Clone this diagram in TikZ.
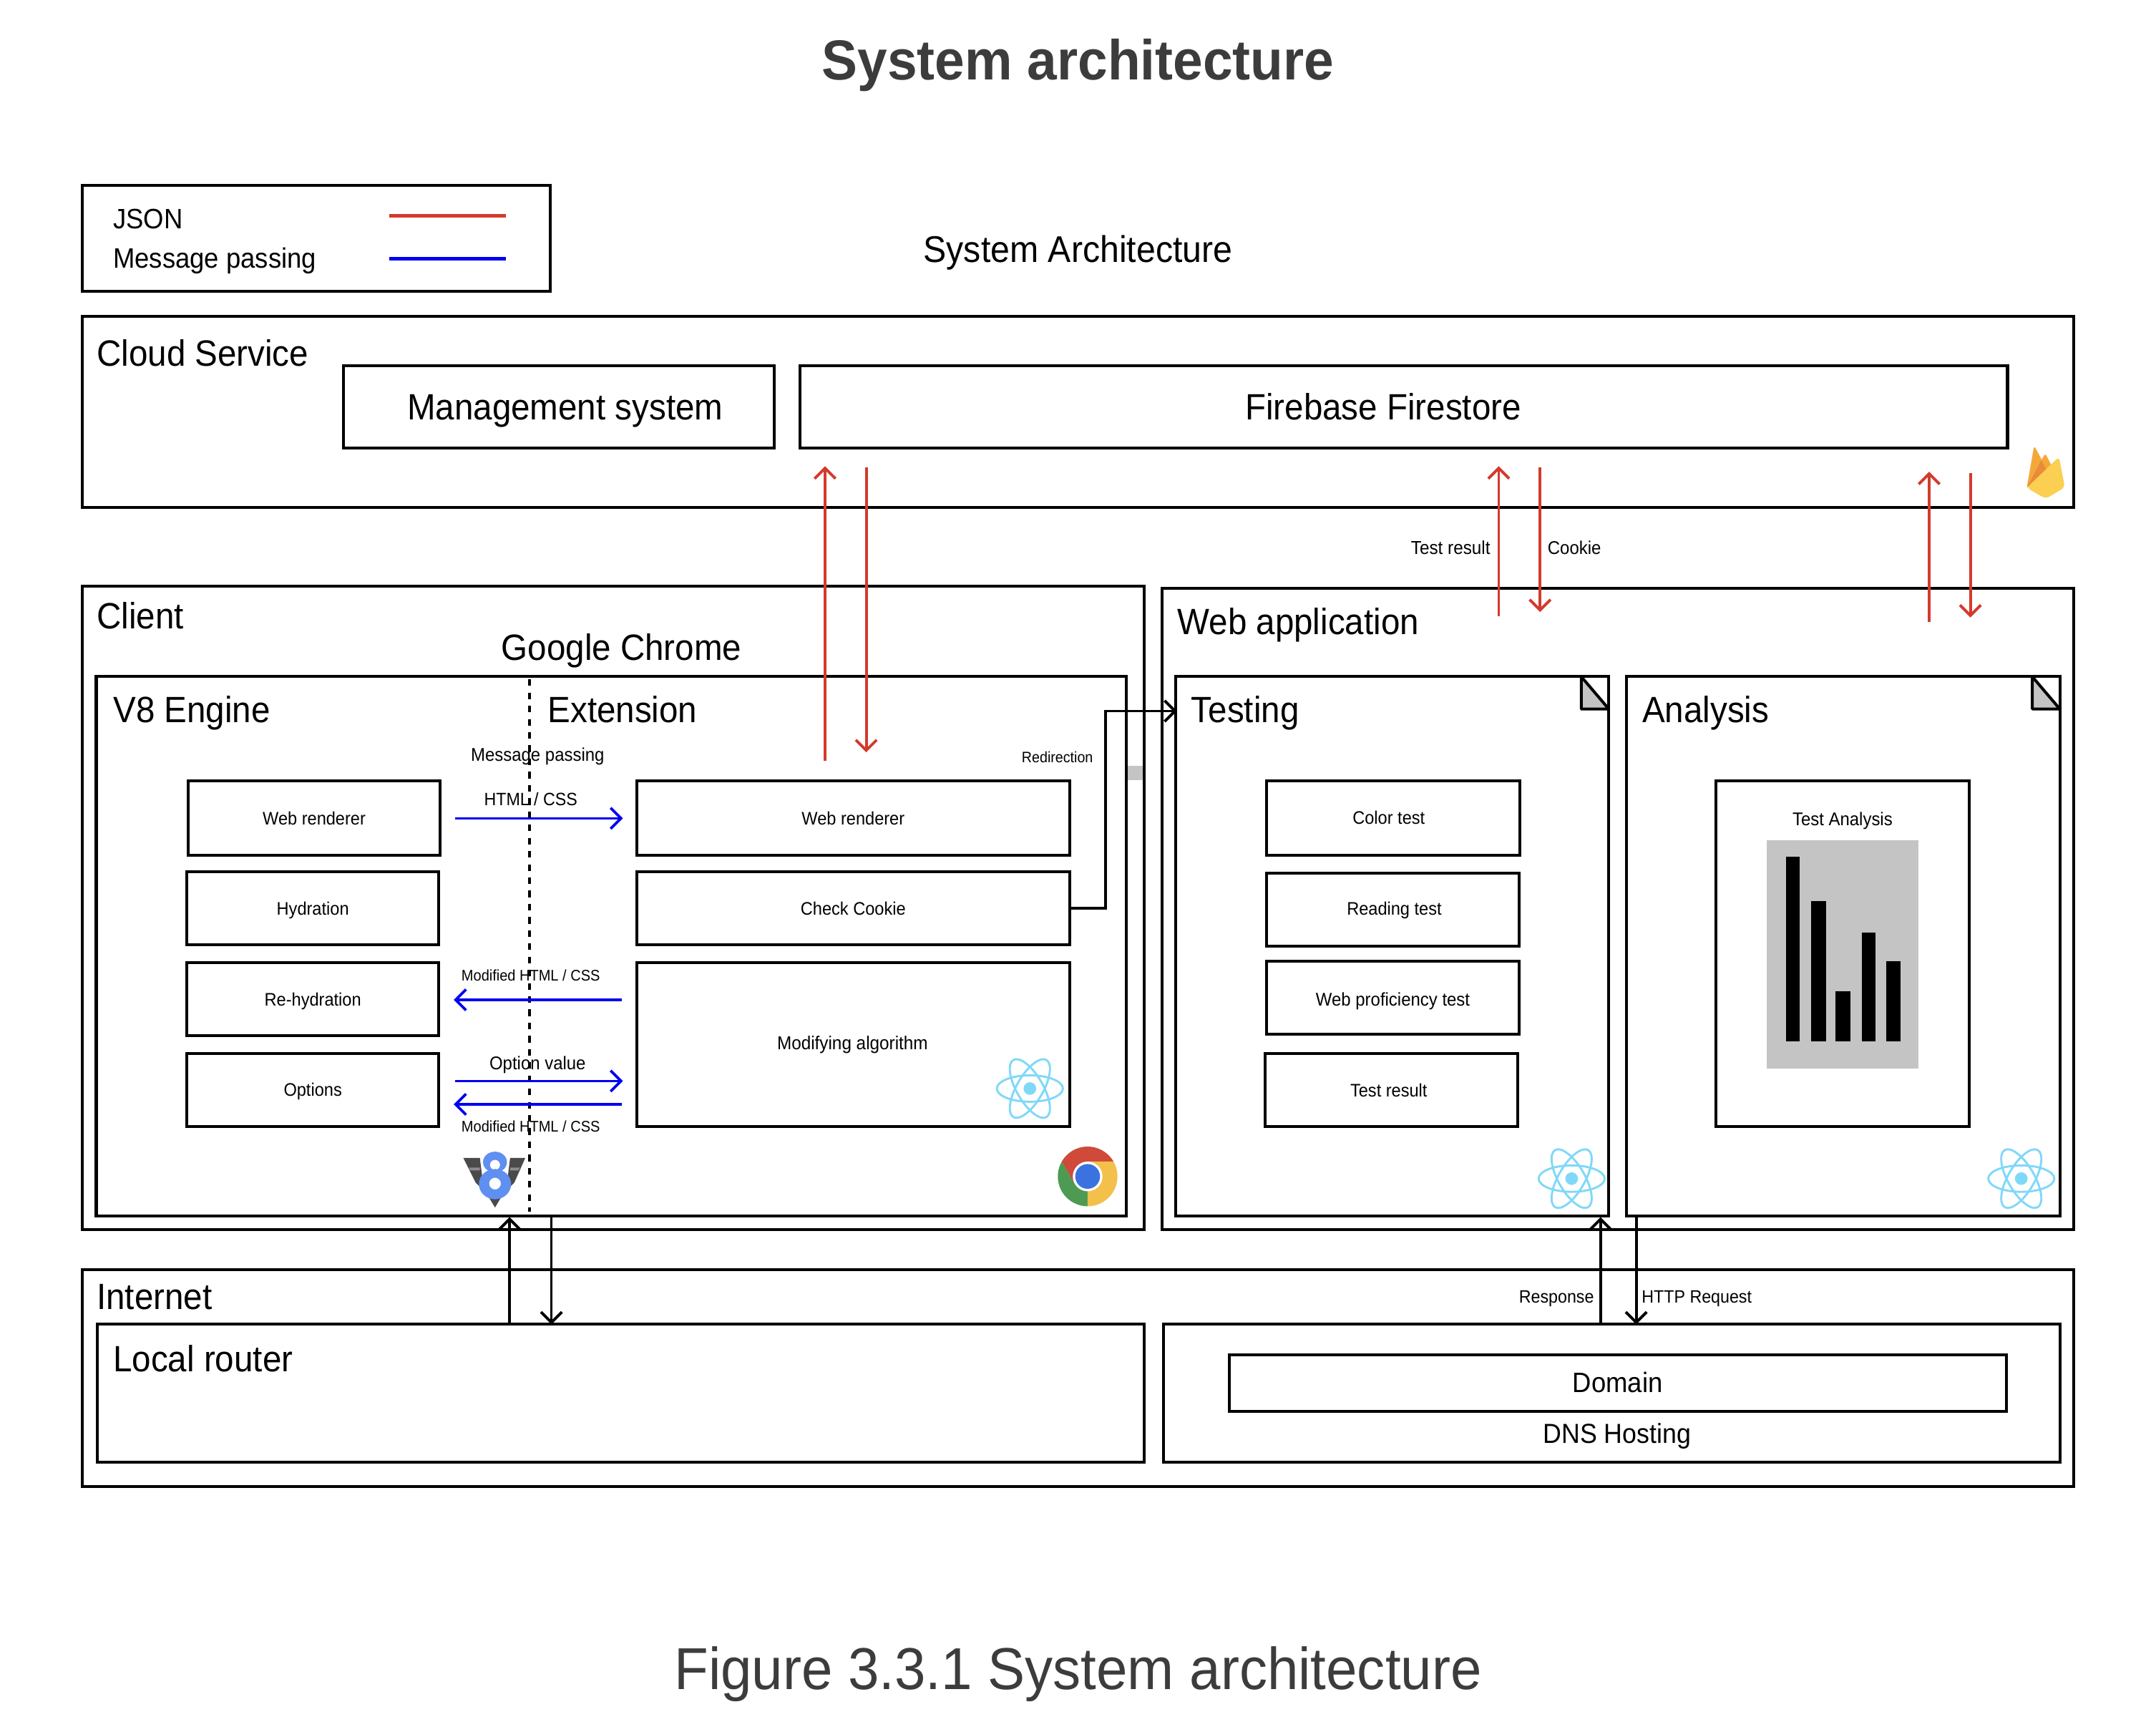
\documentclass[tikz,border=0pt]{standalone}
\usepackage{fontspec}
\setmainfont{Liberation Sans}[FakeStretch=0.93]
\newfontfamily\capf{Liberation Sans}[FakeStretch=0.945]
\newfontfamily\titlef{Liberation Sans}[FakeStretch=0.95]
\usetikzlibrary{arrows.meta}
\definecolor{redl}{HTML}{D33A2C}
\definecolor{bluel}{HTML}{0000F0}
\definecolor{reactc}{HTML}{80D8F8}
\definecolor{ink}{HTML}{3C3C3C}
\newcommand{\fs}[1]{\fontsize{#1}{#1}\selectfont}
\newcommand{\bxn}[6]{\node[bxs,minimum width={(#4-#2)*0.5pt},minimum height={(#5-#3)*0.5pt}] (#1) at ({(#2+#4)/2},{(#3+#5)/2}) {#6};}
\newcommand{\reactlogo}[3]{\begin{scope}[shift={(#1,#2)}]
 \fill[reactc] (0,0) circle[radius=4.6];
 \foreach \a in {0,60,120}{\draw[reactc,line width=0.75pt,rotate=\a] (0,0) ellipse[x radius=24,y radius=9.6];}
\end{scope}}
\tikzset{
 bxs/.style={draw,line width=1.05pt,inner sep=0pt,outer sep=0pt,font=\fs{6.6},text=black,text height=4.7pt,text depth=0pt},
 big/.style={inner sep=0pt,anchor=mid west,font=\fs{13.3}},
 midt/.style={inner sep=0pt,anchor=mid,font=\fs{10.2}},
 small/.style={inner sep=0pt,anchor=mid,font=\fs{6.5}},
 redar/.style={draw=redl,line width=1pt,-{Straight Barb[length=3.8pt,width=7.6pt]}},
 bluear/.style={draw=bluel,line width=0.95pt,-{Straight Barb[length=3.8pt,width=7.6pt]}},
 blkar/.style={draw=black,line width=1pt,-{Straight Barb[length=3.8pt,width=7.6pt]}},
 earfold/.style={fill=black!23,line width=1.05pt,line join=bevel},
}
\begin{document}
\begin{tikzpicture}[x=0.5pt,y=-0.5pt]
\useasboundingbox (0,0) rectangle (1568,1251.6);
\fill[white] (0,0) rectangle (1568,1251.6);

% titles
\node[inner sep=0pt,anchor=mid,font=\titlef\fs{20.5}\bfseries,text=ink] (title) at (784,52.5) {System architecture};
\node[inner sep=0pt,anchor=mid,font=\capf\fs{21.5},text=ink] (caption) at (784,1223) {Figure 3.3.1 System architecture};
\node[inner sep=0pt,anchor=mid,font=\fs{13.5}] (sysarch) at (784,185.5) {System Architecture};

% legend
\bxn{legend}{60}{135}{400}{212}{}
\node[midt,anchor=mid west] (ljson) at (82,161) {JSON};
\node[midt,anchor=mid west] (lmsg) at (82,189.5) {Message passing};
\coordinate (lr1) at (283,157); \coordinate (lr2) at (368,157);
\coordinate (lb1) at (283,188); \coordinate (lb2) at (368,188);
\draw[redl,line width=1.4pt] (lr1) -- (lr2);
\draw[bluel,line width=1.4pt] (lb1) -- (lb2);

% cloud
\bxn{cloud}{60}{230}{1508}{369}{}
\node[big] (lcloud) at (70,261) {Cloud Service};
\bxn{mgmt}{250}{266}{563}{326}{}
\node[big,anchor=mid] (lmgmt) at (411,300) {Management system};
\bxn{fire}{582}{266}{1460}{326}{}
\node[big,anchor=mid] (lfire) at (1006,300) {Firebase Firestore};
\begin{scope}[shift={(1405.1,301.8)},scale=0.17347]
 \fill[rounded corners=1pt,fill={rgb,255:red,245;green,168;blue,58}] (397,305) -- (428,128) -- (475,215) -- cycle;
 \fill[rounded corners=1pt,fill={rgb,255:red,245;green,168;blue,58}] (455,195) -- (475,160) -- (505,220) -- (470,260) -- cycle;
 \fill[fill={rgb,255:red,233;green,139;blue,56}] (397,305) -- (458,190) -- (485,238) -- cycle;
 \fill[rounded corners=1.5pt,fill={rgb,255:red,251;green,207;blue,82}] (397,305) -- (532,175) -- (557,303) -- (477,351) -- cycle;
\end{scope}

% client
\bxn{client}{60}{426}{832}{894}{}
\node[big] (lclient) at (70,452) {Client};
\node[big,anchor=mid] (lchrome) at (452,475) {Google Chrome};
\bxn{chrome}{70}{492}{819}{884}{}
\node[big] (lv8) at (82,520) {V8 Engine};
\node[big] (lext) at (398,520) {Extension};
\node[small,font=\fs{6.7}] (lmp) at (391,548) {Message passing};
\node[small,font=\fs{5.5}] (lredir) at (769,549) {Redirection};
\node[small] (lhtml) at (386,580.5) {HTML / CSS};
\node[small,font=\fs{5.6}] (lmod1) at (386,708) {Modified HTML / CSS};
\node[small,font=\fs{6.7}] (lopt) at (391,772.5) {Option value};
\node[small,font=\fs{5.6}] (lmod2) at (386,818) {Modified HTML / CSS};

\bxn{wr1}{137}{568}{320}{622}{Web renderer}
\bxn{hyd}{136}{634}{319}{687}{Hydration}
\bxn{rehyd}{136}{700}{319}{753}{Re-hydration}
\bxn{opts}{136}{766}{319}{819}{Options}
\bxn{wr2}{463}{568}{778}{622}{Web renderer}
\bxn{check}{463}{634}{778}{687}{Check Cookie}
\bxn{modify}{463}{700}{778}{819}{}
\node[small,font=\fs{6.8}] (lmodify) at (620,758) {Modifying algorithm};

% divider
\coordinate (da) at (385,494); \coordinate (db) at (385,881);
\draw[black,line width=0.95pt,dash pattern=on 2.4pt off 2.4pt] (da) -- (db);

% blue arrows
\coordinate (b1a) at (331,595); \coordinate (b1b) at (453,595);
\coordinate (b2a) at (452,727); \coordinate (b2b) at (330,727);
\coordinate (b3a) at (331,786); \coordinate (b3b) at (453,786);
\coordinate (b4a) at (452,803); \coordinate (b4b) at (330,803);
\draw[bluear] (b1a) -- (b1b);
\draw[bluear] (b2a) -- (b2b);
\draw[bluear] (b3a) -- (b3b);
\draw[bluear] (b4a) -- (b4b);

% logos
\reactlogo{749}{791.5}{}
\begin{scope}[shift={(791,855.4)},yscale=-1]
 \fill[fill={rgb,255:red,207;green,74;blue,57}] (0,0) -- (150:21.7) arc[start angle=150,end angle=30,radius=21.7] -- (0,10.8) -- cycle;
 \fill[fill={rgb,255:red,78;green,154;blue,82}] (150:21.7) arc[start angle=150,end angle=270,radius=21.7] -- (9.3,-5.4) -- (-9.3,-5.4) -- cycle;
 \fill[fill={rgb,255:red,243;green,192;blue,75}] (-90:21.7) arc[start angle=-90,end angle=30,radius=21.7] -- (0,10.8) -- (0,0) -- cycle;
 \fill[fill={rgb,255:red,207;green,74;blue,57}] (150:21.7) -- (0,10.8) -- (-9.3,-5.4) -- cycle;
 \fill[white] (0,0) circle[radius=10.8];
 \fill[fill={rgb,255:red,58;green,114;blue,224}] (0,0) circle[radius=9];
\end{scope}
\begin{scope}
 \definecolor{vdark}{HTML}{4A4A4A}
 \definecolor{vblue}{HTML}{5F8FF0}
 \fill[vdark] (337,842) -- (349,842) -- (352,866) -- (346,860) -- cycle;
 \fill[vdark] (382,842) -- (371,842) -- (368,866) -- (374,860) -- cycle;
 \fill[black!45] (341,849) -- (349,849) -- (349,851) -- (341.8,851) -- cycle;
 \fill[black!45] (378,849) -- (371,849) -- (371,851) -- (377.2,851) -- cycle;
 \fill[vdark] (354,868) -- (366,868) -- (360,878) -- cycle;
 \fill[vblue,even odd rule] (360,845) ellipse[x radius=8.7,y radius=7.6] (360,847) circle[radius=3.7];
 \fill[vblue,even odd rule] (360,861) ellipse[x radius=11.7,y radius=11] (360,860.6) circle[radius=4.3];
\end{scope}

% web application
\bxn{webapp}{845}{428}{1508}{894}{}
\node[big] (lwebapp) at (856,456) {Web application};

\bxn{testing}{855}{492}{1170}{884}{}
\filldraw[earfold] (1150,492) -- (1150,515.5) -- (1170,515.5) -- cycle;
\node[big] (ltesting) at (866,520) {Testing};
\bxn{color}{921}{568}{1105.5}{622}{}
\node[small,font=\fs{6.6}] (lcolor) at (1010,594) {Color test};
\bxn{reading}{921}{635}{1105}{688}{}
\node[small,font=\fs{6.6}] (lreading) at (1014,660) {Reading test};
\bxn{prof}{921}{699}{1105}{752}{}
\node[small,font=\fs{6.7}] (lprof) at (1013,726) {Web proficiency test};
\bxn{result}{920}{766}{1104}{819}{}
\node[small,font=\fs{6.6}] (lresult) at (1010,792) {Test result};
\reactlogo{1143}{857}{}

\bxn{analysis}{1183}{492}{1498}{884}{}
\filldraw[earfold] (1478,492) -- (1478,515.5) -- (1498,515.5) -- cycle;
\node[big] (lanalysis) at (1194,520) {Analysis};
\bxn{tana}{1248}{568}{1432}{819}{}
\node[small,font=\fs{6.7}] (ltana) at (1340,595) {Test Analysis};
\fill[black!23] (1285,611) rectangle (1395,777);
\fill[black] (1299,623) rectangle (1309,757);
\fill[black] (1317,655) rectangle (1328,757);
\fill[black] (1335,721) rectangle (1346,757);
\fill[black] (1354,678) rectangle (1364,757);
\fill[black] (1372,699) rectangle (1382,757);
\reactlogo{1470}{857}{}

% gray fragment
\fill[black!23] (820,557) rectangle (831,567);

% internet
\bxn{internet}{60}{923}{1508}{1081}{}
\node[big] (linternet) at (70,947) {Internet};
\bxn{router}{71}{963}{832}{1063}{}
\node[big] (lrouter) at (82,992) {Local router};
\bxn{dns}{846}{963}{1498}{1063}{}
\node[draw,line width=1.05pt,inner sep=0pt,outer sep=0pt,font=\fs{10.2},text height=7.2pt,text depth=0pt,minimum width={565*0.5pt},minimum height={41*0.5pt}] (domain) at (1176.5,1005.5) {Domain};
\node[midt,font=\fs{10}] (ldns) at (1176,1044) {DNS Hosting};
\node[small] (lresp) at (1132,942) {Response};
\node[small] (lhttp) at (1234,942) {HTTP Request};
\node[small,font=\fs{6.8}] (ltr) at (1055,398) {Test result};
\node[small,font=\fs{6.7}] (lcookie) at (1145,398) {Cookie};

% red arrows
\coordinate (r1a) at (600,553); \coordinate (r1b) at (600,339);
\coordinate (r2a) at (630,340); \coordinate (r2b) at (630,547);
\coordinate (r3a) at (1090,448); \coordinate (r3b) at (1090,339);
\coordinate (r4a) at (1120,340); \coordinate (r4b) at (1120,445);
\coordinate (r5a) at (1403,452); \coordinate (r5b) at (1403,343);
\coordinate (r6a) at (1433,344); \coordinate (r6b) at (1433,449);
\draw[redar] (r1a) -- (r1b);
\draw[redar] (r2a) -- (r2b);
\draw[redar] (r3a) -- (r3b);
\draw[redar] (r4a) -- (r4b);
\draw[redar] (r5a) -- (r5b);
\draw[redar] (r6a) -- (r6b);

% black connectors
\coordinate (k1a) at (370.6,963); \coordinate (k1b) at (370.6,885);
\coordinate (k2a) at (401,884); \coordinate (k2b) at (401,963);
\coordinate (k3a) at (1164,963); \coordinate (k3b) at (1164,885);
\coordinate (k4a) at (1190,884); \coordinate (k4b) at (1190,963);
\draw[blkar] (k1a) -- (k1b);
\draw[blkar] (k2a) -- (k2b);
\draw[blkar] (k3a) -- (k3b);
\draw[blkar] (k4a) -- (k4b);
\coordinate (rd2) at (804,517); \coordinate (rd3) at (856,517);
\draw[blkar] (check.east) -| (rd2) -- (rd3);
\end{tikzpicture}
\end{document}
